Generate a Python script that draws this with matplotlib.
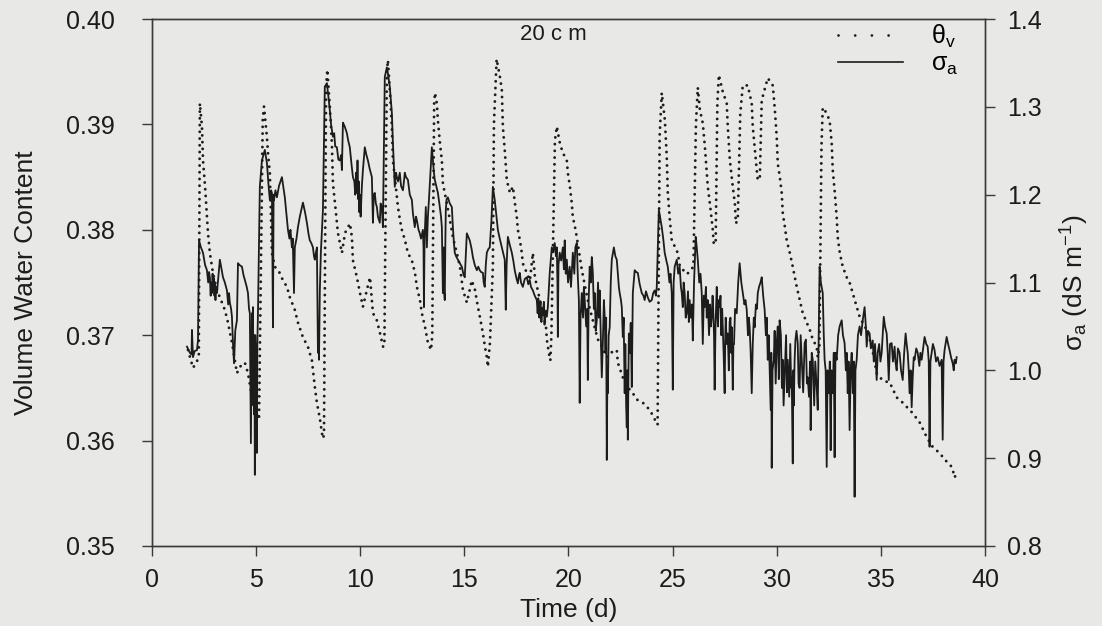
import matplotlib.pyplot as plt
from matplotlib.lines import Line2D

plt.rcParams['font.family'] = ['Liberation Sans', 'DejaVu Sans']
plt.rcParams['mathtext.fontset'] = 'custom'
plt.rcParams['mathtext.rm'] = 'Liberation Sans'
plt.rcParams['mathtext.it'] = 'Liberation Sans'
plt.rcParams['mathtext.default'] = 'regular'

# volumetric water content (dotted, left axis)
theta_t = [1.73, 1.97, 2.16, 2.25, 2.30, 2.40, 2.45, 2.55, 2.64, 2.69, 2.78, 2.93, 3.12, 3.36, 3.50,
           3.65, 3.84, 3.98, 4.08, 4.22, 4.46, 4.61, 4.80, 4.94, 5.04, 5.14, 5.32, 5.38, 5.52, 5.57,
           5.66, 5.76, 5.90, 6.14, 6.29, 6.48, 6.62, 6.86, 7.01, 7.25, 7.49, 7.68, 7.82, 7.92, 8.07,
           8.20, 8.26, 8.36, 8.42, 8.55, 8.64, 8.69, 8.79, 8.93, 9.03, 9.12, 9.27, 9.51, 9.60, 9.65,
           9.84, 9.99, 10.13, 10.32, 10.47, 10.61, 10.80, 10.95, 11.10, 11.16, 11.28, 11.33, 11.43,
           11.52, 11.57, 11.71, 11.81, 11.91, 12.00, 12.15, 12.29, 12.48, 12.63, 12.72, 12.87, 12.96,
           13.11, 13.25, 13.40, 13.46, 13.55, 13.59, 13.68, 13.73, 13.83, 13.92, 13.97, 14.16, 14.31,
           14.45, 14.64, 14.79, 14.93, 15.12, 15.36, 15.51, 15.65, 15.75, 15.89, 15.99, 16.08, 16.13,
           16.23, 16.37, 16.42, 16.55, 16.71, 16.80, 16.85, 16.95, 17.04, 17.19, 17.33, 17.43, 17.52,
           17.57, 17.67, 17.76, 17.81, 18.00, 18.15, 18.29, 18.39, 18.63, 18.77, 18.92, 18.96, 19.06,
           19.13, 19.18, 19.35, 19.44, 19.59, 19.73, 19.92, 19.97, 20.07, 20.16, 20.21, 20.31, 20.40,
           20.64, 20.93, 21.17, 21.41, 21.51, 21.84, 21.99, 22.32, 22.37, 22.61, 22.95, 23.09, 23.28,
           23.57, 23.91, 24.15, 24.28, 24.38, 24.48, 24.63, 24.72, 24.77, 24.87, 24.96, 25.11, 25.25,
           25.35, 25.70, 26.00, 26.12, 26.21, 26.31, 26.45, 26.55, 26.64, 26.69, 26.79, 26.93, 26.98,
           27.07, 27.15, 27.22, 27.41, 27.60, 27.65, 27.75, 27.89, 27.99, 28.04, 28.13, 28.25, 28.37,
           28.61, 28.80, 28.85, 28.95, 29.04, 29.09, 29.19, 29.28, 29.57, 29.81, 29.91, 30.00, 30.05,
           30.15, 30.24, 30.29, 30.39, 30.48, 30.63, 30.77, 30.96, 31.11, 31.25, 31.44, 31.59, 31.73,
           31.92, 31.97, 32.05, 32.15, 32.21, 32.30, 32.54, 32.64, 32.69, 32.79, 32.88, 32.93, 33.03,
           33.17, 33.36, 33.50, 33.65, 33.84, 33.99, 34.32, 34.56, 34.80, 35.09, 35.43, 35.76, 36.05,
           36.53, 36.87, 37.21, 37.49, 37.83, 38.07, 38.41, 38.55, 38.65]
theta_v = [0.3686, 0.3669, 0.3675, 0.3682, 0.3920, 0.3898, 0.3866, 0.3841, 0.3812, 0.3797, 0.3778,
           0.3759, 0.3743, 0.3731, 0.3724, 0.3712, 0.3693, 0.3676, 0.3664, 0.3670, 0.3674, 0.3664,
           0.3642, 0.3634, 0.3626, 0.3620, 0.3905, 0.3917, 0.3888, 0.3873, 0.3854, 0.3778, 0.3765,
           0.3759, 0.3752, 0.3746, 0.3736, 0.3724, 0.3712, 0.3698, 0.3689, 0.3676, 0.3651, 0.3636,
           0.3620, 0.3602, 0.3605, 0.3935, 0.3952, 0.3914, 0.3882, 0.3844, 0.3825, 0.3797, 0.3787,
           0.3778, 0.3797, 0.3806, 0.3793, 0.3771, 0.3755, 0.3740, 0.3727, 0.3743, 0.3755, 0.3721,
           0.3714, 0.3702, 0.3689, 0.3690, 0.3950, 0.3961, 0.3930, 0.3898, 0.3866, 0.3841, 0.3822,
           0.3809, 0.3800, 0.3790, 0.3778, 0.3771, 0.3759, 0.3746, 0.3733, 0.3721, 0.3708, 0.3693,
           0.3686, 0.3700, 0.3920, 0.3930, 0.3920, 0.3904, 0.3882, 0.3866, 0.3844, 0.3825, 0.3809,
           0.3793, 0.3778, 0.3765, 0.3743, 0.3731, 0.3752, 0.3743, 0.3727, 0.3717, 0.3702, 0.3689,
           0.3679, 0.3670, 0.3693, 0.3765, 0.3900, 0.3962, 0.3945, 0.3933, 0.3898, 0.3873, 0.3847,
           0.3835, 0.3841, 0.3825, 0.3812, 0.3800, 0.3790, 0.3778, 0.3768, 0.3759, 0.3752, 0.3778,
           0.3755, 0.3733, 0.3721, 0.3708, 0.3696, 0.3683, 0.3676, 0.3700, 0.3885, 0.3898, 0.3882,
           0.3873, 0.3866, 0.3854, 0.3841, 0.3825, 0.3812, 0.3803, 0.3793, 0.3762, 0.3733, 0.3714,
           0.3696, 0.3693, 0.3679, 0.3683, 0.3686, 0.3674, 0.3660, 0.3648, 0.3645, 0.3639, 0.3636,
           0.3629, 0.3620, 0.3615, 0.3890, 0.3930, 0.3904, 0.3869, 0.3835, 0.3809, 0.3790, 0.3784,
           0.3778, 0.3765, 0.3758, 0.3765, 0.3900, 0.3935, 0.3914, 0.3901, 0.3879, 0.3854, 0.3841,
           0.3825, 0.3800, 0.3786, 0.3790, 0.3920, 0.3947, 0.3931, 0.3920, 0.3898, 0.3866, 0.3841,
           0.3825, 0.3806, 0.3810, 0.3910, 0.3937, 0.3937, 0.3920, 0.3898, 0.3876, 0.3857, 0.3847,
           0.3850, 0.3923, 0.3944, 0.3937, 0.3914, 0.3888, 0.3863, 0.3850, 0.3835, 0.3816, 0.3803,
           0.3790, 0.3778, 0.3765, 0.3746, 0.3733, 0.3721, 0.3712, 0.3705, 0.3696, 0.3689, 0.3679,
           0.3690, 0.3880, 0.3916, 0.3914, 0.3904, 0.3882, 0.3857, 0.3835, 0.3812, 0.3793, 0.3778,
           0.3765, 0.3755, 0.3750, 0.3740, 0.3727, 0.3717, 0.3705, 0.3690, 0.3664, 0.3657, 0.3655,
           0.3641, 0.3636, 0.3626, 0.3617, 0.3603, 0.3594, 0.3588, 0.3582, 0.3575, 0.3565, 0.3572]

# apparent electrical conductivity (solid, right axis): (day, dS/m) readings
sigma_readings = [
    (1.68, 1.027), (1.82, 1.020), (1.90, 1.018), (1.92, 1.046), (1.97, 1.015), (2.05, 1.022),
    (2.16, 1.023), (2.21, 1.034), (2.26, 1.148), (2.35, 1.140), (2.45, 1.134), (2.55, 1.120),
    (2.64, 1.114), (2.70, 1.100), (2.74, 1.112), (2.78, 1.106), (2.82, 1.085), (2.84, 1.100),
    (2.88, 1.088), (2.91, 1.110), (2.94, 1.092), (2.97, 1.105), (3.00, 1.085), (3.02, 1.099),
    (3.05, 1.080), (3.07, 1.095), (3.12, 1.088), (3.20, 1.110), (3.26, 1.126), (3.41, 1.106),
    (3.50, 1.100), (3.60, 1.091), (3.66, 1.075), (3.70, 1.088), (3.74, 1.077), (3.80, 1.070),
    (3.84, 1.061), (3.89, 1.031), (3.94, 1.008), (4.00, 1.045), (4.08, 1.057), (4.13, 1.122),
    (4.20, 1.120), (4.32, 1.118), (4.40, 1.108), (4.46, 1.103), (4.55, 1.095), (4.61, 1.088),
    (4.66, 1.070), (4.70, 1.065), (4.75, 0.917), (4.78, 1.000), (4.80, 1.065), (4.82, 1.040),
    (4.85, 1.072), (4.87, 0.960), (4.88, 1.030), (4.90, 0.950), (4.92, 1.040), (4.94, 0.881),
    (4.96, 1.040), (4.98, 0.960), (4.99, 1.012), (5.01, 0.940), (5.02, 1.030), (5.04, 0.906),
    (5.06, 1.030), (5.09, 1.065), (5.18, 1.209), (5.28, 1.239), (5.42, 1.251), (5.52, 1.236),
    (5.60, 1.210), (5.66, 1.194), (5.72, 1.205), (5.76, 1.202), (5.81, 1.049), (5.84, 1.200),
    (5.86, 1.194), (5.93, 1.205), (6.00, 1.197), (6.10, 1.210), (6.24, 1.220), (6.30, 1.210),
    (6.38, 1.197), (6.45, 1.180), (6.53, 1.160), (6.60, 1.150), (6.65, 1.160), (6.72, 1.140),
    (6.76, 1.150), (6.82, 1.088), (6.86, 1.140), (6.94, 1.150), (7.01, 1.163), (7.10, 1.175),
    (7.25, 1.191), (7.35, 1.180), (7.44, 1.168), (7.52, 1.155), (7.58, 1.148), (7.65, 1.145),
    (7.73, 1.140), (7.78, 1.130), (7.82, 1.126), (7.88, 1.135), (7.92, 1.140), (7.95, 1.060),
    (7.97, 1.020), (8.00, 1.050), (8.02, 1.012), (8.06, 1.090), (8.11, 1.134), (8.21, 1.183),
    (8.30, 1.323), (8.40, 1.327), (8.48, 1.310), (8.54, 1.296), (8.60, 1.280), (8.69, 1.266),
    (8.75, 1.270), (8.80, 1.255), (8.88, 1.254), (8.95, 1.240), (9.02, 1.239), (9.08, 1.245),
    (9.12, 1.228), (9.17, 1.282), (9.25, 1.278), (9.36, 1.270), (9.42, 1.262), (9.50, 1.254),
    (9.58, 1.235), (9.65, 1.220), (9.72, 1.215), (9.76, 1.200), (9.80, 1.225), (9.84, 1.202),
    (9.87, 1.239), (9.90, 1.195), (9.93, 1.215), (9.96, 1.180), (9.98, 1.200), (10.02, 1.175),
    (10.08, 1.210), (10.13, 1.228), (10.22, 1.254), (10.30, 1.245), (10.37, 1.239), (10.45, 1.230),
    (10.56, 1.220), (10.61, 1.168), (10.65, 1.200), (10.70, 1.202), (10.75, 1.190), (10.80, 1.186),
    (10.85, 1.175), (10.94, 1.168), (10.98, 1.190), (11.04, 1.186), (11.09, 1.163), (11.18, 1.334),
    (11.28, 1.345), (11.35, 1.335), (11.42, 1.323), (11.52, 1.293), (11.57, 1.259), (11.62, 1.230),
    (11.66, 1.209), (11.72, 1.225), (11.76, 1.220), (11.82, 1.215), (11.90, 1.225), (11.96, 1.210),
    (12.05, 1.205), (12.10, 1.215), (12.14, 1.225), (12.20, 1.220), (12.29, 1.217), (12.38, 1.200),
    (12.48, 1.194), (12.53, 1.179), (12.58, 1.170), (12.62, 1.163), (12.68, 1.175), (12.72, 1.171),
    (12.80, 1.160), (12.86, 1.156), (12.92, 1.150), (13.01, 1.160), (13.04, 1.140), (13.06, 1.072),
    (13.09, 1.150), (13.15, 1.186), (13.18, 1.160), (13.20, 1.140), (13.25, 1.175), (13.30, 1.194),
    (13.44, 1.254), (13.49, 1.239), (13.54, 1.225), (13.58, 1.217), (13.65, 1.210), (13.73, 1.202),
    (13.80, 1.190), (13.88, 1.175), (13.92, 1.163), (13.95, 1.120), (13.97, 1.088), (14.00, 1.140),
    (14.03, 1.090), (14.06, 1.080), (14.09, 1.150), (14.11, 1.183), (14.15, 1.195), (14.21, 1.197),
    (14.30, 1.190), (14.40, 1.186), (14.45, 1.163), (14.50, 1.145), (14.54, 1.134), (14.60, 1.130),
    (14.69, 1.126), (14.78, 1.122), (14.88, 1.118), (14.95, 1.110), (15.02, 1.106), (15.08, 1.135),
    (15.12, 1.156), (15.26, 1.148), (15.35, 1.138), (15.41, 1.129), (15.50, 1.120), (15.60, 1.114),
    (15.67, 1.118), (15.74, 1.114), (15.80, 1.112), (15.89, 1.111), (15.93, 1.100), (15.98, 1.095),
    (16.03, 1.120), (16.08, 1.134), (16.15, 1.138), (16.22, 1.140), (16.30, 1.170), (16.37, 1.209),
    (16.46, 1.194), (16.56, 1.171), (16.61, 1.160), (16.70, 1.150), (16.80, 1.140), (16.88, 1.132),
    (16.94, 1.126), (16.99, 1.069), (17.03, 1.120), (17.09, 1.152), (17.18, 1.143), (17.28, 1.134),
    (17.35, 1.125), (17.42, 1.114), (17.50, 1.105), (17.57, 1.099), (17.62, 1.108), (17.66, 1.111),
    (17.72, 1.100), (17.81, 1.095), (17.90, 1.104), (18.00, 1.106), (18.07, 1.098), (18.14, 1.103),
    (18.20, 1.095), (18.29, 1.091), (18.38, 1.085), (18.48, 1.080), (18.52, 1.065), (18.55, 1.082),
    (18.60, 1.060), (18.62, 1.069), (18.66, 1.078), (18.70, 1.055), (18.74, 1.070), (18.77, 1.065),
    (18.82, 1.078), (18.85, 1.052), (18.90, 1.068), (18.96, 1.061), (19.01, 1.072), (19.10, 1.111),
    (19.20, 1.140), (19.27, 1.135), (19.34, 1.145), (19.40, 1.130), (19.44, 1.140), (19.47, 1.100),
    (19.49, 1.038), (19.52, 1.120), (19.58, 1.134), (19.65, 1.125), (19.73, 1.140), (19.78, 1.115),
    (19.82, 1.148), (19.87, 1.110), (19.92, 1.126), (19.98, 1.100), (20.06, 1.118), (20.12, 1.095),
    (20.21, 1.134), (20.28, 1.110), (20.33, 1.140), (20.40, 1.145), (20.45, 1.106), (20.50, 1.080),
    (20.54, 0.963), (20.58, 1.060), (20.64, 1.088), (20.70, 1.060), (20.74, 1.095), (20.78, 1.080),
    (20.85, 1.050), (20.90, 1.070), (20.93, 0.989), (20.97, 1.080), (21.02, 1.118), (21.07, 1.100),
    (21.12, 1.129), (21.17, 1.111), (21.22, 1.070), (21.26, 1.088), (21.31, 1.045), (21.36, 1.057),
    (21.42, 1.100), (21.46, 1.060), (21.50, 1.091), (21.55, 1.040), (21.60, 0.992), (21.65, 1.031),
    (21.70, 1.080), (21.74, 1.061), (21.78, 1.020), (21.81, 1.060), (21.84, 0.898), (21.87, 1.000),
    (21.89, 0.974), (21.93, 1.040), (21.98, 1.049), (22.03, 1.100), (22.08, 1.126), (22.18, 1.140),
    (22.25, 1.130), (22.32, 1.126), (22.37, 1.111), (22.42, 1.095), (22.46, 1.088), (22.52, 1.080),
    (22.56, 1.072), (22.61, 1.038), (22.65, 1.060), (22.70, 0.974), (22.73, 1.030), (22.77, 0.960),
    (22.80, 0.935), (22.83, 1.000), (22.85, 0.921), (22.88, 0.990), (22.90, 1.042), (22.95, 1.020),
    (22.99, 1.054), (23.04, 0.981), (23.09, 1.088), (23.18, 1.114), (23.25, 1.112), (23.33, 1.111),
    (23.42, 1.098), (23.52, 1.088), (23.60, 1.085), (23.66, 1.080), (23.72, 1.090), (23.81, 1.083),
    (23.90, 1.078), (24.00, 1.080), (24.07, 1.088), (24.14, 1.091), (24.20, 1.085), (24.24, 1.095),
    (24.34, 1.183), (24.48, 1.163), (24.55, 1.150), (24.62, 1.134), (24.70, 1.125), (24.77, 1.118),
    (24.85, 1.100), (24.90, 1.110), (24.96, 1.088), (25.01, 0.978), (25.05, 1.100), (25.10, 1.118),
    (25.20, 1.126), (25.27, 1.110), (25.34, 1.118), (25.40, 1.095), (25.44, 1.088), (25.49, 1.072),
    (25.53, 1.100), (25.58, 1.088), (25.63, 1.060), (25.68, 1.065), (25.74, 1.090), (25.78, 1.055),
    (25.82, 1.080), (25.88, 1.060), (25.93, 1.075), (25.97, 1.034), (26.03, 1.100), (26.11, 1.152),
    (26.16, 1.140), (26.21, 1.126), (26.28, 1.100), (26.34, 1.110), (26.40, 1.088), (26.45, 1.030),
    (26.50, 1.085), (26.54, 1.072), (26.60, 1.095), (26.64, 1.060), (26.69, 1.080), (26.75, 1.040),
    (26.80, 1.075), (26.84, 1.050), (26.88, 1.061), (26.92, 1.085), (26.95, 1.070), (26.99, 1.040),
    (27.02, 0.978), (27.06, 1.050), (27.12, 1.095), (27.16, 1.060), (27.18, 1.050), (27.22, 1.080),
    (27.26, 1.072), (27.30, 1.085), (27.34, 1.040), (27.38, 1.070), (27.41, 1.049), (27.45, 1.020),
    (27.50, 0.974), (27.53, 1.040), (27.55, 1.060), (27.60, 1.030), (27.65, 1.042), (27.70, 1.000),
    (27.74, 1.055), (27.78, 1.060), (27.81, 1.020), (27.84, 1.049), (27.89, 0.978), (27.92, 1.030),
    (27.95, 1.030), (28.00, 1.070), (28.08, 1.065), (28.15, 1.100), (28.22, 1.122), (28.30, 1.100),
    (28.37, 1.088), (28.45, 1.075), (28.50, 1.080), (28.56, 1.069), (28.62, 1.040), (28.66, 1.060),
    (28.70, 1.049), (28.75, 1.020), (28.80, 0.974), (28.85, 1.030), (28.90, 1.060), (28.94, 1.049),
    (29.00, 1.075), (29.05, 1.070), (29.09, 1.088), (29.15, 1.095), (29.22, 1.100), (29.28, 1.106),
    (29.35, 1.085), (29.42, 1.069), (29.48, 1.040), (29.52, 1.060), (29.57, 1.012), (29.62, 1.040),
    (29.67, 0.990), (29.71, 0.955), (29.74, 1.020), (29.76, 0.889), (29.80, 1.000), (29.86, 1.012),
    (29.90, 1.045), (29.95, 0.985), (30.00, 1.031), (30.05, 1.050), (30.10, 0.990), (30.14, 1.057),
    (30.20, 1.040), (30.25, 0.980), (30.29, 1.012), (30.33, 0.960), (30.38, 0.992), (30.45, 1.040),
    (30.49, 0.975), (30.53, 1.012), (30.60, 0.970), (30.65, 1.030), (30.70, 0.980), (30.72, 0.992),
    (30.77, 0.894), (30.80, 1.000), (30.82, 0.960), (30.86, 1.012), (30.90, 1.035), (30.95, 1.045),
    (31.01, 1.031), (31.05, 0.985), (31.10, 0.980), (31.15, 1.040), (31.20, 1.012), (31.27, 0.975),
    (31.34, 1.031), (31.40, 1.035), (31.45, 0.985), (31.49, 0.992), (31.55, 0.970), (31.60, 1.010),
    (31.63, 0.932), (31.68, 1.020), (31.73, 1.012), (31.80, 0.960), (31.85, 1.010), (31.92, 0.981),
    (31.97, 0.955), (32.06, 1.118), (32.12, 1.100), (32.21, 1.088), (32.26, 1.040), (32.30, 1.012),
    (32.35, 1.000), (32.40, 0.890), (32.44, 1.000), (32.50, 0.974), (32.55, 1.010), (32.59, 0.909),
    (32.63, 1.000), (32.69, 0.974), (32.74, 1.020), (32.78, 0.901), (32.82, 1.020), (32.88, 1.012),
    (32.95, 1.040), (33.02, 1.050), (33.12, 1.057), (33.18, 1.040), (33.26, 1.031), (33.32, 1.000),
    (33.36, 1.020), (33.41, 0.974), (33.45, 1.010), (33.50, 0.932), (33.55, 1.000), (33.60, 1.020),
    (33.65, 0.974), (33.70, 1.010), (33.74, 0.856), (33.78, 1.000), (33.84, 1.012), (33.90, 1.040),
    (33.98, 1.050), (34.05, 1.040), (34.13, 1.057), (34.22, 1.072), (34.28, 1.050), (34.32, 1.027),
    (34.38, 1.045), (34.46, 1.042), (34.52, 1.025), (34.61, 1.034), (34.66, 1.010), (34.72, 1.030),
    (34.80, 0.989), (34.85, 1.020), (34.92, 1.030), (34.98, 1.010), (35.04, 1.020), (35.10, 1.045),
    (35.14, 1.061), (35.20, 1.050), (35.28, 1.042), (35.33, 1.020), (35.38, 0.989), (35.44, 1.030),
    (35.52, 1.031), (35.58, 1.010), (35.66, 1.027), (35.70, 1.010), (35.76, 1.000), (35.82, 1.025),
    (35.90, 1.020), (35.97, 1.000), (36.05, 0.989), (36.12, 1.020), (36.19, 1.042), (36.24, 1.030),
    (36.29, 1.020), (36.34, 1.000), (36.38, 0.974), (36.43, 1.000), (36.48, 0.958), (36.53, 0.992),
    (36.58, 1.015), (36.62, 1.012), (36.70, 1.025), (36.77, 1.020), (36.85, 1.005), (36.90, 1.020),
    (36.96, 1.012), (37.03, 1.025), (37.10, 1.038), (37.18, 1.030), (37.25, 1.027), (37.30, 1.010),
    (37.34, 0.913), (37.38, 1.010), (37.44, 1.020), (37.50, 1.030), (37.58, 1.023), (37.65, 1.010),
    (37.73, 1.015), (37.82, 1.005), (37.92, 1.012), (37.97, 0.921), (38.01, 1.010), (38.06, 1.023),
    (38.16, 1.038), (38.23, 1.030), (38.30, 1.023), (38.37, 1.015), (38.45, 1.008), (38.50, 1.000),
    (38.54, 1.012), (38.60, 1.008), (38.64, 1.015),
]
sigma_t = [r[0] for r in sigma_readings]
sigma_a = [r[1] for r in sigma_readings]

x_ticks = [0, 5, 10, 15, 20, 25, 30, 35, 40]
left_ticks = [0.35, 0.36, 0.37, 0.38, 0.39, 0.40]
right_ticks = [0.8, 0.9, 1.0, 1.1, 1.2, 1.3, 1.4]

bg = '#e8e8e6'
ink = '#1c1c1c'

fig = plt.figure(figsize=(11.02, 6.26), dpi=100, facecolor=bg)
ax = fig.add_axes([0.1379, 0.1278, 0.7559, 0.8418])
ax.set_facecolor(bg)
ax2 = ax.twinx()

ax.plot(theta_t, theta_v, color=ink, lw=2.1, linestyle=(0, (0.01, 2.3)),
        dash_capstyle='round')
ax2.plot(sigma_t, sigma_a, color=ink, lw=1.3)

ax.set_xlim(0, 40)
ax.set_ylim(0.35, 0.40)
ax2.set_ylim(0.8, 1.4)
ax.set_xticks(x_ticks)
ax.set_yticks(left_ticks)
ax.set_yticklabels(['%.2f' % v for v in left_ticks])
ax2.set_yticks(right_ticks)
ax2.set_yticklabels(['%.1f' % v for v in right_ticks])

for a in (ax, ax2):
    for s in a.spines.values():
        s.set_color('#3a3a3a')
        s.set_linewidth(1.0)
    a.tick_params(direction='out', length=7, width=1.0, color='#3a3a3a',
                  labelsize=18, labelcolor=ink)
ax.tick_params(axis='y', pad=20)
ax.tick_params(axis='x', pad=9)
ax2.tick_params(axis='y', pad=9)

ax.set_xlabel('Time (d)', fontsize=19, color=ink, labelpad=4)
ax.set_ylabel('Volume Water Content', fontsize=19, color=ink, labelpad=20)
ax2.set_ylabel('σ$_a$ (dS m$^{-1}$)', fontsize=19, color=ink, labelpad=12)

ax.text(0.482, 0.97, '20 c m', transform=ax.transAxes, ha='center', va='center',
        fontsize=16, color=ink)

h1 = Line2D([], [], color=ink, lw=2.0, linestyle=(0, (0.01, 6)), dash_capstyle='round')
h2 = Line2D([], [], color=ink, lw=1.2)
ax2.legend([h1, h2], ['θ$_v$', 'σ$_a$'], loc='upper right', bbox_to_anchor=(0.995, 1.035),
           frameon=False, fontsize=18, handlelength=2.6, handletextpad=1.1,
           labelspacing=0.05)

fig.savefig('out.png', dpi=100, facecolor=bg)
